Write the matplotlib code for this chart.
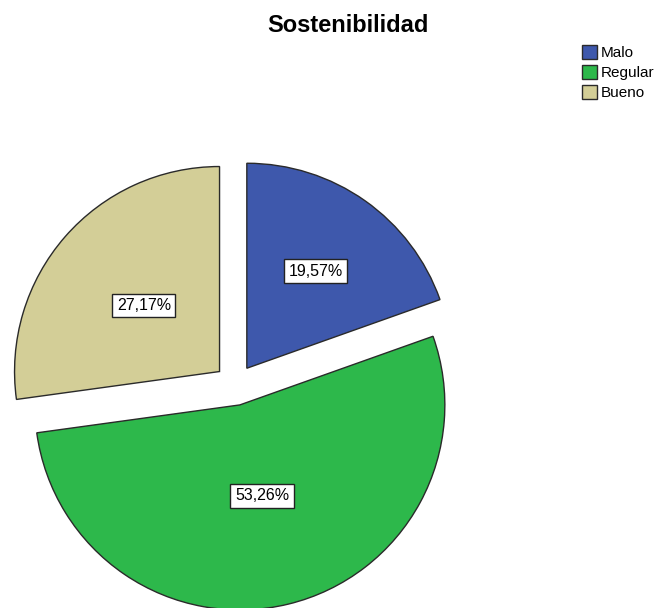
import numpy as np
from matplotlib import pyplot as plt

plt.rcParams['font.family'] = ['Liberation Sans', 'DejaVu Sans']

categories = ['Malo', 'Regular', 'Bueno']
counts = [18, 49, 25]
colors = ['#3E58AC', '#2DB84B', '#D3CE97']
title = 'Sostenibilidad'

# radial position of each percent box (Malo, Regular, Bueno), fraction of radius
label_r = [0.58, 0.456, 0.49]

W, H = 659, 608
R = 205.0          # pie radius in pixels
cx, cy = 235, 223  # pie centre in pixels (from bottom-left)

fig = plt.figure(figsize=(W / 100, H / 100), dpi=100)
ax = fig.add_axes([0, 0, 1, 1])

wedges, _ = ax.pie(counts, colors=colors, startangle=90, counterclock=False,
                   explode=[0.1] * len(counts),
                   wedgeprops=dict(edgecolor='#2a2a2a', linewidth=1))

total = sum(counts)
for w, c, r in zip(wedges, counts, label_r):
    mid = np.deg2rad((w.theta1 + w.theta2) / 2)
    x = w.center[0] + r * np.cos(mid)
    y = w.center[1] + r * np.sin(mid)
    txt = f"{100 * c / total:.2f}%".replace('.', ',')
    ax.text(x, y, txt, ha='center', va='center', fontsize=11.5,
            bbox=dict(boxstyle='square,pad=0.28', fc='white', ec='#222222', lw=1))

ax.set_xlim(-cx / R, (W - cx) / R)
ax.set_ylim(-cy / R, (H - cy) / R)
ax.set_aspect('auto')
ax.axis('off')

fig.text(347.5 / W, 1 - 25 / H, title, ha='center', va='center',
         fontsize=17, fontweight='bold')

leg = fig.legend(wedges, categories, loc='upper left',
                 bbox_to_anchor=(582 / W, 1 - 45 / H), bbox_transform=fig.transFigure,
                 frameon=False, fontsize=11, handlelength=1.0, handleheight=1.0,
                 handletextpad=0.25, labelspacing=0.33, borderpad=0, borderaxespad=0)

fig.savefig('out.png', dpi=100)
